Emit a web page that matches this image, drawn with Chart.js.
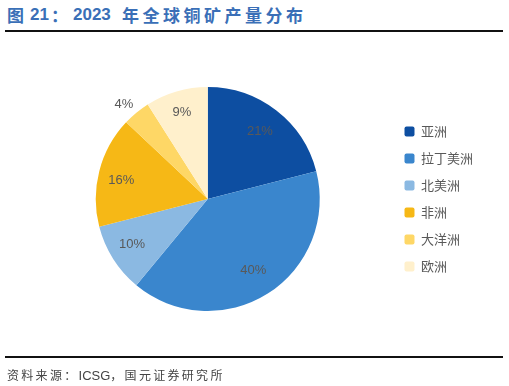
<!DOCTYPE html>
<html>
<head>
<meta charset="utf-8">
<script src="https://cdn.jsdelivr.net/npm/chart.js@4/dist/chart.umd.min.js"></script>
<style>
  html, body { margin: 0; padding: 0; background: #ffffff; }
  body { width: 509px; height: 386px; position: relative; overflow: hidden; }
  #title { position: absolute; left: 0; top: 5px; width: 509px; height: 20px; font-weight: bold; font-size: 17px; color: #3A6FB7; white-space: nowrap; }
  #title span { position: absolute; top: 0; line-height: 20px; }
  #title .cjk { font-family: "Noto Sans CJK SC", sans-serif; }
  #title .lat { font-family: "Liberation Sans", sans-serif; }
  #rule1 { position: absolute; left: 5px; width: 498px; top: 30px; height: 2px; background: #111; }
  #rule2 { position: absolute; left: 5px; width: 498px; top: 356px; height: 2px; background: #111; }
  #source { position: absolute; left: 7px; top: 366px; font-family: "Noto Sans CJK SC", sans-serif; font-size: 12px; color: #444; letter-spacing: 2.3px; white-space: nowrap; }
  #source .lat { font-family: "Liberation Sans", sans-serif; letter-spacing: 0; font-size: 13px; }
  #wrap { position: absolute; left: 0; top: 0; width: 509px; height: 386px; }
</style>
</head>
<body>
<div id="title"><span class="cjk" style="left:7px">图</span><span class="lat" style="left:30px">21</span><span class="cjk" style="left:51px">：</span><span class="lat" style="left:73px">2023</span><span class="cjk" style="left:122px;letter-spacing:3.5px">年全球铜矿产量分布</span></div>
<div id="rule1"></div>
<div id="wrap"><canvas id="c" width="509" height="386"></canvas></div>
<div id="rule2"></div>
<div id="source">资料来源：<span class="lat">ICSG</span>，国元证券研究所</div>
<script>
const categories = ["亚洲", "拉丁美洲", "北美洲", "非洲", "大洋洲", "欧洲"];
const shares = [21, 40, 10, 16, 4, 9];
const sliceColors = ["#0D4EA1", "#3A86CD", "#8BB9E2", "#F6B816", "#FED766", "#FFF0CC"];

const labelPlugin = {
  id: "sliceLabels",
  afterDatasetsDraw(chart) {
    const ctx = chart.ctx;
    const meta = chart.getDatasetMeta(0);
    const factors = [0.76, 0.76, 0.79, 0.79, 1.13, 0.81];
    const angleShiftDeg = [0, 0, 1.2, -2.4, -1.9, -0.4];
    ctx.save();
    ctx.font = "13px 'Liberation Sans', Arial, sans-serif";
    ctx.fillStyle = "#595959";
    ctx.textAlign = "center";
    ctx.textBaseline = "middle";
    meta.data.forEach((arc, i) => {
      const p = arc.getProps(["x", "y", "startAngle", "endAngle", "outerRadius"], true);
      const mid = (p.startAngle + p.endAngle) / 2 + angleShiftDeg[i] * Math.PI / 180;
      const r = p.outerRadius * factors[i];
      ctx.fillText(shares[i] + "%", p.x + Math.cos(mid) * r, p.y + Math.sin(mid) * r);
    });
    ctx.restore();
  }
};

new Chart(document.getElementById("c"), {
  type: "pie",
  data: {
    labels: categories,
    datasets: [{
      data: shares,
      backgroundColor: sliceColors,
      borderWidth: 0,
      radius: 112
    }]
  },
  options: {
    responsive: false,
    animation: false,
    layout: { padding: { top: 40, bottom: 28, left: 25, right: 26 } },
    plugins: {
      tooltip: { enabled: false },
      legend: {
        position: "right",
        labels: {
          boxWidth: 10,
          boxHeight: 10,
          padding: 14,
          useBorderRadius: true,
          borderRadius: 2,
          color: "#595959",
          font: { family: "'Noto Sans CJK SC', sans-serif", size: 13 }
        }
      }
    }
  },
  plugins: [labelPlugin]
});
</script>
</body>
</html>
